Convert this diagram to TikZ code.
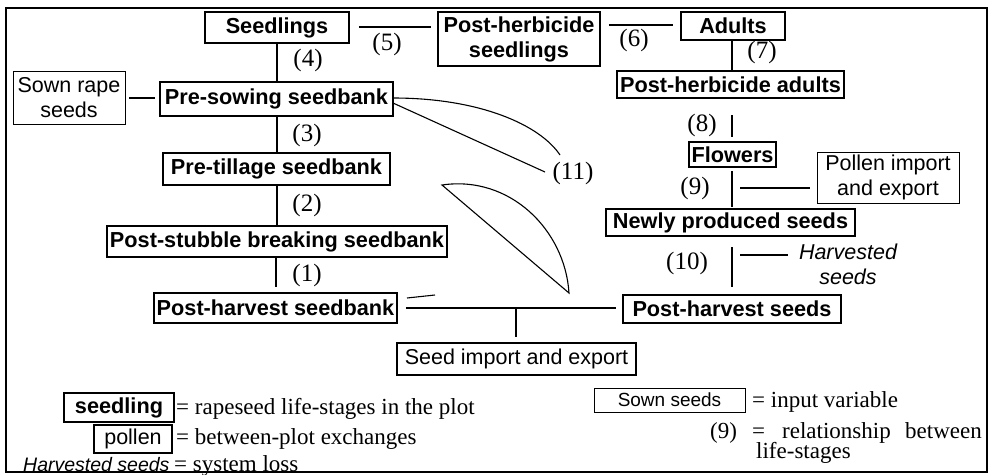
\documentclass[tikz,border=0pt]{standalone}
\usepackage{fontspec}
\setmainfont{Liberation Serif}
\setsansfont{Liberation Sans}
\begin{document}
\begin{tikzpicture}[x=1pt,y=-1pt,
  stage/.style={draw, line width=1.5pt, font=\sffamily\bfseries\fontsize{21.7}{25}\selectfont, inner sep=0pt, align=center},
  ext/.style={draw, line width=0.9pt, font=\sffamily\fontsize{21.5}{25}\selectfont, inner sep=0pt, align=center},
  num/.style={font=\fontsize{25}{27}\selectfont, inner sep=0pt},
  conn/.style={line width=1.4pt},
  leg/.style={font=\fontsize{23}{25}\selectfont, inner sep=0pt, anchor=base west}]
\useasboundingbox (0,0) rectangle (993,474);
\draw[line width=1.2pt] (6,8) rectangle (987,472);

% life-stage boxes
\node[stage, minimum width=144pt, minimum height=31pt] (seedl) at (277,27.5) {Seedlings};
\node[stage, minimum width=162pt, minimum height=54pt] (phs) at (519,39) {Post-herbicide\\seedlings};
\node[stage, minimum width=104pt, minimum height=28pt] (adults) at (733,26) {Adults};
\node[stage, minimum width=227pt, minimum height=27pt] (pha) at (730.5,84.5) {Post-herbicide adults};
\node[stage, minimum width=87pt, minimum height=25pt] (flowers) at (732.5,154.5) {Flowers};
\node[stage, minimum width=249pt, minimum height=27pt] (nps) at (730.5,222.5) {Newly produced seeds};
\node[stage, minimum width=218pt, minimum height=28pt] (phseeds) at (732,309) {Post-harvest seeds};
\node[stage, minimum width=243pt, minimum height=30pt] (phsb) at (275.5,308) {Post-harvest seedbank};
\node[stage, minimum width=340pt, minimum height=31pt] (psbs) at (277,241.5) {Post-stubble breaking seedbank};
\node[stage, minimum width=227pt, minimum height=32pt] (pts) at (276.5,169) {Pre-tillage seedbank};
\node[stage, minimum width=233pt, minimum height=34pt] (pss) at (276.5,99) {Pre-sowing seedbank};

% exchange / input boxes
\node[ext, minimum width=112pt, minimum height=53pt] (sown) at (69,97.5) {Sown rape\\seeds};
\node[ext, minimum width=142pt, minimum height=51pt] (pollen) at (888,177.5) {Pollen import\\and export};
\node[ext, line width=1.1pt, minimum width=239pt, minimum height=32pt] (seedimp) at (516.5,359) {Seed import and export};
\node[font=\sffamily\itshape\fontsize{21.5}{25}\selectfont, align=center, inner sep=0pt] (harv) at (848,264) {Harvested\\seeds};

% connectors
\draw[conn] (seedl.south) -- (seedl.south |- pss.north);
\draw[conn] (pss.south -| seedl.south) -- (seedl.south |- pts.north);
\draw[conn] (pts.south -| seedl.south) -- (seedl.south |- psbs.north);
\draw[conn, shorten <=1pt, shorten >=5pt] (276,257) coordinate (c1a) -- (c1a |- phsb.north);
\draw[conn, shorten <=9pt, shorten >=6pt] (seedl.east |- 0,27) coordinate (c5a) -- (c5a -| phs.west);
\draw[conn, shorten <=8pt, shorten >=7pt] (phs.east |- 0,25) coordinate (c6a) -- (c6a -| adults.west);
\draw[conn] (732,40) coordinate (c7a) -- (c7a |- pha.north);
\draw[conn, shorten <=17pt, shorten >=4pt] (732,98) coordinate (c8a) -- (c8a |- flowers.north);
\draw[conn, shorten <=4pt, shorten >=1pt] (732,167) coordinate (c9a) -- (c9a |- nps.north);
\draw[conn, shorten <=11pt, shorten >=7pt] (732,236) coordinate (c10a) -- (c10a |- phseeds.north);
\draw[conn, shorten <=4pt, shorten >=4pt] (sown.east |- 0,98) coordinate (csa) -- (csa -| pss.west);
\coordinate (b9) at (740,188);
\draw[conn, shorten >=7pt] (b9) -- (b9 -| pollen.west);
\coordinate (b10) at (740,255);
\draw[conn] (b10) -- (788,255) coordinate (b10e);
\draw[conn, shorten <=8pt, shorten >=6pt] (phsb.east |- 0,308) coordinate (chl) -- (chl -| phseeds.west);
\coordinate (bsi) at (516,308);
\draw[conn, shorten >=5pt] (bsi) -- (bsi |- seedimp.north);
\draw[line width=1.1pt] (407,298) -- (435,295);

% relationship (11)
\coordinate (p11a) at (393,98);
\coordinate (p11b) at (393,103);
\draw[line width=1.1pt] (p11a) .. controls (480,98) and (540,125) .. (560,155);
\draw[line width=1.1pt] (p11b) -- (545,172);
\draw[line width=1.1pt] (442,185) .. controls (510,175) and (565,230) .. (569,293) -- cycle;

% relationship numbers
\node[num] (n1) at (307,275) {(1)};
\node[num] (n2) at (307,205) {(2)};
\node[num] (n3) at (307,135) {(3)};
\node[num] (n4) at (308,60) {(4)};
\node[num] (n5) at (387,44) {(5)};
\node[num] (n6) at (634,40) {(6)};
\node[num] (n7) at (762,52) {(7)};
\node[num] (n8) at (702,125) {(8)};
\node[num] (n9) at (695,188) {(9)};
\node[num] (n10) at (687,263) {(10)};
\node[num] (n11) at (573,173) {(11)};

% legend
\node[stage, minimum width=110pt, minimum height=29pt] (lseed) at (119,407.5) {seedling};
\node[leg] (lseedt) at (176,414) {= rapeseed life-stages in the plot};
\node[ext, line width=1.4pt, minimum width=78pt, minimum height=28pt] (lpol) at (133,439) {pollen};
\node[leg] (lpolt) at (176,444) {= between-plot exchanges};
\node[font=\sffamily\itshape\fontsize{19.5}{22}\selectfont, inner sep=0pt, anchor=base west] (lharv) at (23,471) {Harvested seeds};
\node[leg] (lharvt) at (174,471) {= system loss};
\node[ext, line width=0.8pt, font=\sffamily\fontsize{19}{22}\selectfont, minimum width=151pt, minimum height=24pt] (lsown) at (669.5,400) {Sown seeds};
\node[leg] (lsownt) at (752,407) {= input variable};
\node[leg] (l9) at (710,438) {(9)};
\node[leg] (l9eq) at (752,438) {=};
\node[leg] (l9r) at (782,438) {relationship};
\node[leg, anchor=base east] (l9b) at (982,438) {between};
\node[leg] (l9l) at (756,458) {life-stages};
\end{tikzpicture}
\end{document}
